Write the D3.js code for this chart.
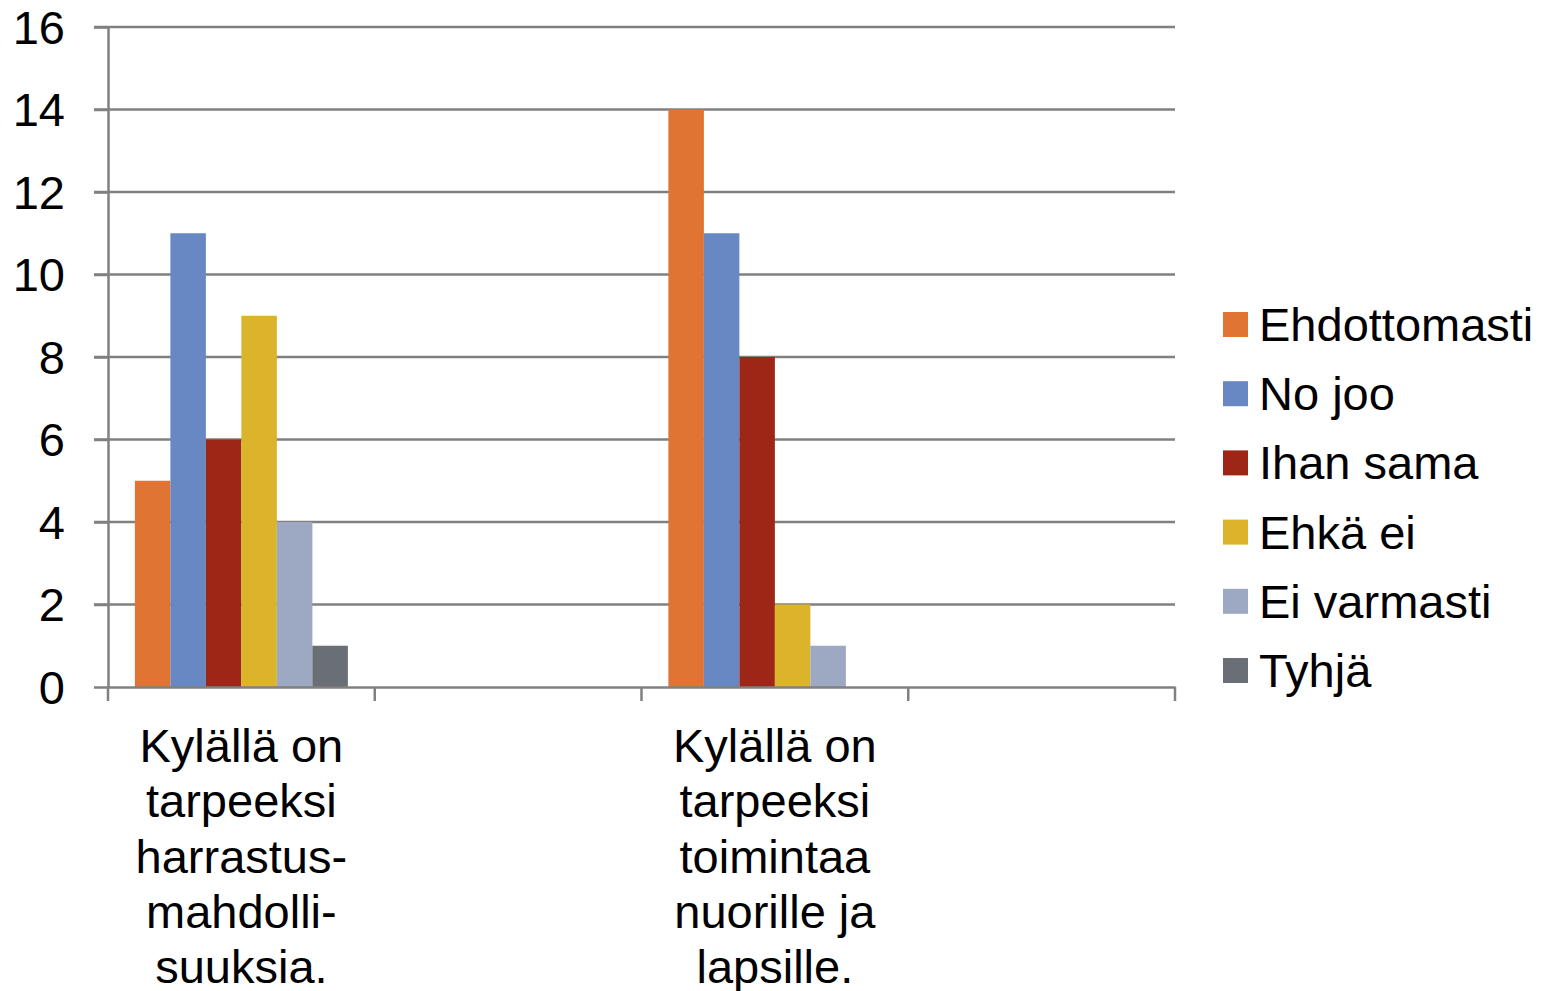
<!DOCTYPE html>
<meta charset="utf-8">
<style>
body { margin: 0; background: #fff; }
svg text { font-family: "Liberation Sans", Arial, sans-serif; fill: #000; }
.grid line { stroke: #808080; stroke-width: 2.5; }
.axis path, .axis line { stroke: #808080; stroke-width: 2.5; }
</style>
<body>
<svg width="1543" height="991"></svg>
<script src="https://d3js.org/d3.v7.min.js"></script>
<script>
// data
var categories = ["Kylällä on|tarpeeksi|harrastus-|mahdolli-|suuksia.", "gap1",
                  "Kylällä on|tarpeeksi|toimintaa|nuorille ja|lapsille.", "gap2"];
var series = ["Ehdottomasti", "No joo", "Ihan sama", "Ehkä ei", "Ei varmasti", "Tyhjä"];
var values1 = [5, 11, 6, 9, 4, 1];
var values2 = [14, 11, 8, 2, 1, 0];
var colors = ["#E07533", "#6788C2", "#9E2617", "#DBB42C", "#9DA8C2", "#6A6E75"];
var yTicks = [0, 2, 4, 6, 8, 10, 12, 14, 16];

var rows = [
  { cat: categories[0], vals: values1 },
  { cat: categories[2], vals: values2 }
];

var svg = d3.select("svg");
var plotLeft = 108, plotRight = 1175, plotTop = 27, plotBottom = 687;
var fontSize = "47px";

var x0 = d3.scaleBand().domain(categories).range([plotLeft, plotRight]).padding(0);
var x1 = d3.scaleBand().domain(series).range([0, x0.bandwidth()]).paddingInner(0).paddingOuter(0.757);
var y = d3.scaleLinear().domain([0, 16]).range([plotBottom, plotTop]);
var color = d3.scaleOrdinal().domain(series).range(colors);

// gridlines
svg.append("g").attr("class", "grid")
  .selectAll("line").data(yTicks.slice(1)).enter().append("line")
    .attr("x1", plotLeft - 14).attr("x2", plotRight)
    .attr("y1", d => y(d)).attr("y2", d => y(d));

// bars
var g = svg.append("g");
rows.forEach(function(r) {
  g.selectAll(null).data(r.vals).enter().append("rect")
    .attr("x", (d, i) => x0(r.cat) + x1(series[i]))
    .attr("y", d => y(d))
    .attr("width", x1.bandwidth())
    .attr("height", d => plotBottom - y(d))
    .attr("fill", (d, i) => colors[i]);
});

// y axis
var yAxis = svg.append("g").attr("class", "axis")
  .attr("transform", "translate(" + plotLeft + ",0)")
  .call(d3.axisLeft(y).tickValues(yTicks).tickSize(14).tickPadding(29).tickSizeOuter(0));
yAxis.selectAll("text").style("font-size", fontSize).attr("dy", "0.35em");

// x axis
var xAxis = svg.append("g").attr("class", "axis")
  .attr("transform", "translate(0," + plotBottom + ")")
  .call(d3.axisBottom(x0).tickValues([]).tickSizeOuter(0));
xAxis.selectAll("line.b").data(categories.map(c => x0(c)).concat([plotRight])).enter().append("line")
  .attr("x1", d => d).attr("x2", d => d)
  .attr("y1", 0).attr("y2", 14);

// category labels
rows.forEach(function(r) {
  var t = svg.append("text")
    .attr("text-anchor", "middle")
    .style("font-size", fontSize);
  r.cat.split("|").forEach(function(line, i) {
    t.append("tspan")
      .attr("x", x0(r.cat) + x0.bandwidth() / 2)
      .attr("y", 762 + i * 55.3)
      .text(line);
  });
});

// legend
var leg = svg.append("g").attr("transform", "translate(1223,312)");
series.forEach(function(s, i) {
  leg.append("rect").attr("x", 0).attr("y", i * 69.2).attr("width", 25).attr("height", 25)
    .attr("fill", color(s));
  leg.append("text").attr("x", 36).attr("y", i * 69.2 + 29)
    .style("font-size", fontSize).text(s);
});
</script>
</body>
